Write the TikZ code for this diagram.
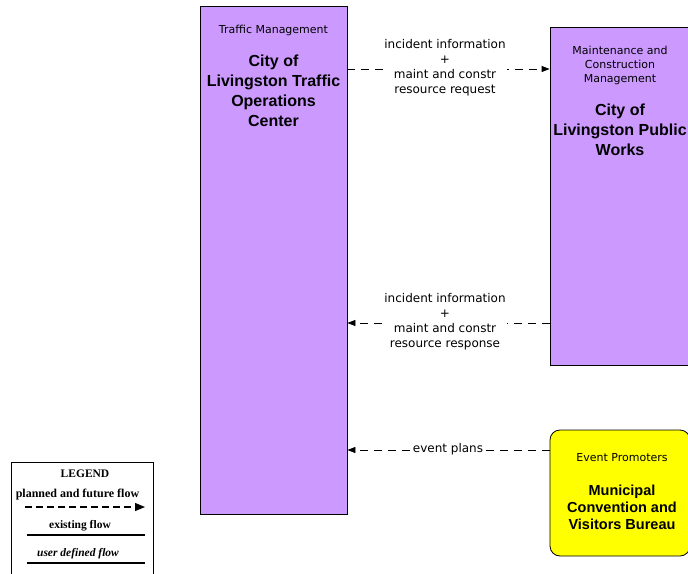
\documentclass[tikz,border=0pt]{standalone}
\usepackage{fontspec}
\setmainfont{Liberation Sans}
\newfontfamily\dvfont{DejaVu Sans}
\newfontfamily\lserif{Liberation Serif}
\usetikzlibrary{arrows.meta}
\definecolor{boxpurple}{RGB}{204,153,255}
\definecolor{boxyellow}{RGB}{255,255,0}
\begin{document}
\begin{tikzpicture}[x=1pt,y=-1pt,
  purplebox/.style={draw=black, line width=0.8pt, fill=boxpurple, inner sep=0pt},
  yellowbox/.style={draw=black, line width=0.8pt, fill=boxyellow, rounded corners=10pt, inner sep=0pt},
  smalltxt/.style={font=\dvfont\fontsize{11}{14}\selectfont, align=center, inner sep=0pt},
  titletxt/.style={font=\bfseries\fontsize{16}{20}\selectfont, align=center, inner sep=0pt},
  ytitletxt/.style={font=\bfseries\fontsize{14.5}{17}\selectfont, align=center, inner sep=0pt},
  flowlabel/.style={font=\dvfont\fontsize{12}{15}\selectfont, align=center, fill=white, inner sep=1.5pt},
  flow/.style={line width=0.8pt, dash pattern=on 8pt off 6pt},
  tip/.style={-{Triangle[length=8pt,width=6pt]}},
  legtip/.style={-{Triangle[length=10pt,width=8pt]}},
  legtxt/.style={font=\lserif\bfseries\fontsize{11.5}{13}\selectfont, inner sep=0pt},
  legline/.style={line width=1.2pt}
]
\useasboundingbox (0,0) rectangle (688,573);
\clip (0,0) rectangle (688,573);

% Traffic operations center
\node[purplebox, minimum width=147pt, minimum height=508pt] (tmc) at (273.5,260) {};
\node[smalltxt] (tmccat) at (273.5,30) {Traffic Management};
\node[titletxt] (tmcname) at (273.5,91) {City of\\Livingston Traffic\\Operations\\Center};

% Public works
\node[purplebox, minimum width=140pt, minimum height=338pt] (pw) at (620,196) {};
\node[smalltxt] (pwcat) at (620,65) {Maintenance and\\Construction\\Management};
\node[titletxt] (pwname) at (620,130) {City of\\Livingston Public\\Works};

% Event promoters
\node[yellowbox, minimum width=140pt, minimum height=126pt] (ep) at (620,493) {};
\node[smalltxt] (epcat) at (622,458) {Event Promoters};
\node[ytitletxt] (epname) at (622,507) {Municipal\\Convention and\\Visitors Bureau};

% Flows
\coordinate (a1s) at (tmc.east |- 0,69);
\coordinate (a1e) at (pw.west |- 0,69);
\draw[flow, tip] (a1s) -- (a1e);
\node[flowlabel] (l1) at (445,68) {incident information\\+\\maint and constr\\resource request};

\coordinate (a2s) at (pw.west |- 0,323);
\coordinate (a2e) at (tmc.east |- 0,323);
\draw[flow, tip] (a2s) -- (a2e);
\node[flowlabel] (l2) at (445,322) {incident information\\+\\maint and constr\\resource response};

\coordinate (a3s) at (ep.west |- 0,450);
\coordinate (a3e) at (tmc.east |- 0,450);
\draw[flow, tip] (a3s) -- (a3e);
\node[flowlabel, inner sep=0.5pt] (l3) at (448,449) {event plans};

% Legend
\node[draw=black, line width=1pt, minimum width=142pt, minimum height=140pt, inner sep=0pt] (leg) at (82,532) {};
\node[legtxt] (legt) at (85,474) {LEGEND};
\node[legtxt, font=\lserif\bfseries\fontsize{12}{13}\selectfont] (legp) at (77.5,495) {planned and future flow};
\coordinate (lp1) at (25,507);
\coordinate (lp2) at (145,507);
\draw[legline, dash pattern=on 6.5pt off 4.5pt, legtip] (lp1) -- (lp2);
\node[legtxt] (lege) at (80,526) {existing flow};
\coordinate (le1) at (27,535);
\coordinate (le2) at (145,535);
\draw[legline] (le1) -- (le2);
\node[legtxt, font=\lserif\bfseries\itshape\fontsize{11.5}{13}\selectfont] (legu) at (78,554) {user defined flow};
\coordinate (lu1) at (27,563);
\coordinate (lu2) at (145,563);
\draw[legline] (lu1) -- (lu2);
\end{tikzpicture}
\end{document}
